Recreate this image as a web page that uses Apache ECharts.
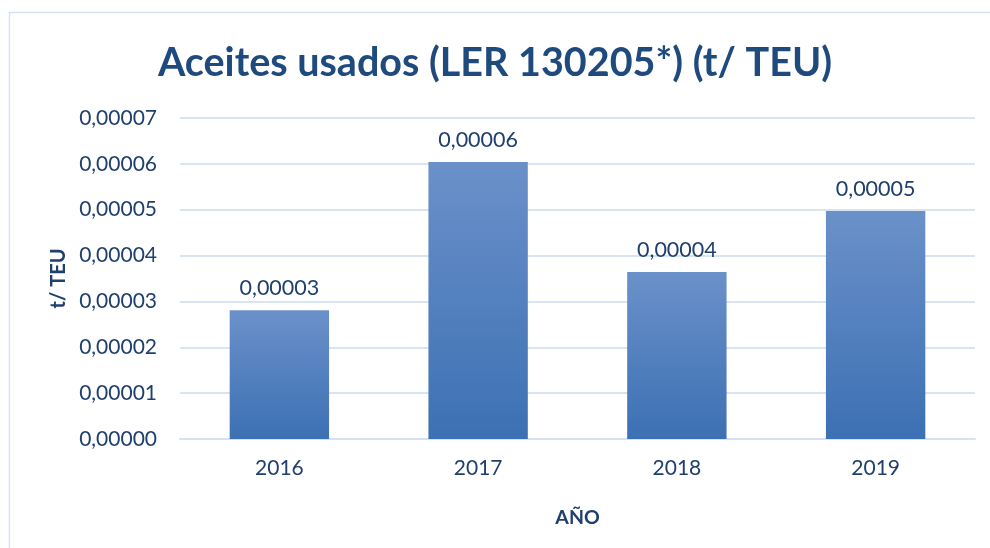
<!DOCTYPE html>
<html>
<head>
<meta charset="utf-8">
<script src="https://cdn.jsdelivr.net/npm/echarts@6/dist/echarts.min.js"></script>
<style>
  html, body { margin: 0; padding: 0; background: #fff; }
  #main { width: 990px; height: 548px; }
</style>
</head>
<body>
<div id="main"></div>
<script>
// datos
const years = ['2016', '2017', '2018', '2019']
const values = [0.0000281, 0.0000604, 0.0000364, 0.0000497]
const yTicks = [0, 0.00001, 0.00002, 0.00003, 0.00004, 0.00005, 0.00006, 0.00007]

const textColor = '#1F3F6E'
const fontName = 'Lato'
const fmt = v => Number(v).toFixed(5).replace('.', ',')

const myChart = echarts.init(document.getElementById('main'))
myChart.setOption({
  backgroundColor: '#fff',
  textStyle: { fontFamily: fontName },
  // borde del area del grafico
  graphic: [{
    type: 'rect',
    shape: { x: 9.5, y: 12.5, width: 1100, height: 700 },
    style: { fill: 'none', stroke: '#D5E2F2', lineWidth: 1.5 },
    silent: true
  }],
  title: {
    text: 'Aceites usados (LER 130205*) (t/ TEU)',
    left: 'center',
    top: 38,
    textStyle: { fontFamily: fontName, fontSize: 39.5, fontWeight: 'bold', color: '#1F4A7E' }
  },
  grid: { left: 180, right: 15, top: 118, bottom: 109, containLabel: false },
  xAxis: {
    type: 'category',
    data: years,
    name: 'AÑO',
    nameLocation: 'middle',
    nameGap: 69,
    nameTextStyle: { fontSize: 19.5, fontWeight: 'bold', color: textColor },
    axisLine: { show: true, lineStyle: { color: '#D5E2F2', width: 2 } },
    axisTick: { show: false },
    axisLabel: { fontSize: 21, color: textColor, margin: 19 }
  },
  yAxis: {
    type: 'value',
    min: yTicks[0],
    max: yTicks[yTicks.length - 1],
    interval: yTicks[1],
    name: 't/ TEU',
    nameLocation: 'middle',
    nameGap: 111,
    nameTextStyle: { fontSize: 20, fontWeight: 'bold', color: textColor },
    axisLine: { show: false },
    axisTick: { show: false },
    axisLabel: { fontSize: 21, color: textColor, margin: 23, formatter: fmt },
    splitLine: { lineStyle: { color: '#D9E4F2', width: 2 } }
  },
  series: [{
    type: 'bar',
    data: values,
    barWidth: '50%',
    itemStyle: {
      color: new echarts.graphic.LinearGradient(0, 0, 0, 1, [
        { offset: 0, color: '#6B91C9' },
        { offset: 1, color: '#3C70B4' }
      ])
    },
    label: {
      show: true,
      position: 'top',
      distance: 11,
      fontSize: 21.5,
      color: textColor,
      formatter: p => fmt(p.value)
    }
  }]
})
</script>
</body>
</html>
